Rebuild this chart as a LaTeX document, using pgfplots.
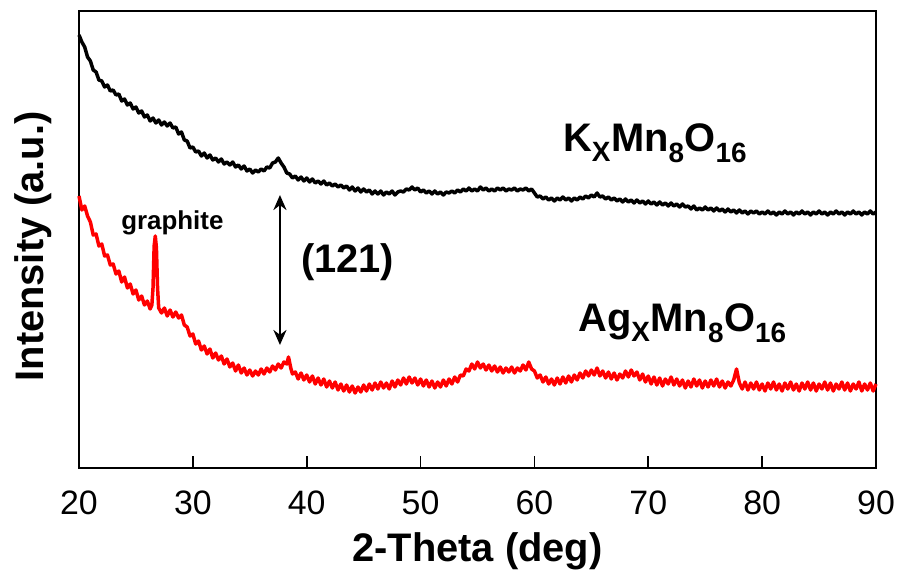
\documentclass[border=0pt]{standalone}
\usepackage{fontspec}
\usepackage{pgfplots}
\usepackage{pgfplotstable}
\pgfplotsset{compat=1.18}
\usetikzlibrary{arrows.meta}
\setmainfont{Liberation Sans}

% K_xMn8O16 (black), intensity in arbitrary units
\pgfplotstableread[row sep=\\]{
x y\\
20.00 433\\ 20.25 426\\ 20.50 421\\ 20.75 411\\ 21.00 407\\ 21.25 398\\ 21.50 396\\ 21.75 388\\
22.00 387\\ 22.25 381\\ 22.50 383\\ 22.75 377\\ 23.00 378\\ 23.25 373\\ 23.50 374\\ 23.75 367\\
24.00 369\\ 24.25 363\\ 24.50 365\\ 24.75 359\\ 25.00 361\\ 25.25 355\\ 25.50 357\\ 25.75 351\\
26.00 353\\ 26.25 347\\ 26.50 350\\ 26.75 345\\ 27.00 348\\ 27.25 343\\ 27.50 346\\ 27.75 342\\
28.00 345\\ 28.25 340\\ 28.50 341\\ 28.75 334\\ 29.00 336\\ 29.25 328\\ 29.50 327\\ 29.75 320\\
30.00 321\\ 30.25 316\\ 30.50 317\\ 30.75 312\\ 31.00 315\\ 31.25 310\\ 31.50 313\\ 31.75 308\\
32.00 310\\ 32.25 306\\ 32.50 309\\ 32.75 304\\ 33.00 306\\ 33.25 303\\ 33.50 306\\ 33.75 301\\
34.00 303\\ 34.25 299\\ 34.50 302\\ 34.75 297\\ 35.00 299\\ 35.25 295\\ 35.50 298\\ 35.75 296\\
36.00 299\\ 36.25 297\\ 36.50 301\\ 36.75 300\\ 37.00 305\\ 37.25 306\\ 37.50 310\\ 37.75 305\\
38.00 301\\ 38.25 295\\ 38.50 294\\ 38.75 290\\ 39.00 292\\ 39.25 288\\ 39.50 291\\ 39.75 287\\
40.00 290\\ 40.25 286\\ 40.50 289\\ 40.75 285\\ 41.00 287\\ 41.25 284\\ 41.50 287\\ 41.75 283\\
42.00 285\\ 42.25 282\\ 42.50 284\\ 42.75 281\\ 43.00 283\\ 43.25 280\\ 43.50 282\\ 43.75 278\\
44.00 281\\ 44.25 277\\ 44.50 280\\ 44.75 276\\ 45.00 279\\ 45.25 276\\ 45.50 278\\ 45.75 274\\
46.00 277\\ 46.25 274\\ 46.50 277\\ 46.75 273\\ 47.00 276\\ 47.25 274\\ 47.50 277\\ 47.75 273\\
48.00 276\\ 48.25 277\\ 48.50 276\\ 48.75 279\\ 49.00 278\\ 49.25 281\\ 49.50 278\\ 49.75 280\\
50.00 276\\ 50.25 278\\ 50.50 275\\ 50.75 277\\ 51.00 274\\ 51.25 277\\ 51.50 274\\ 51.75 276\\
52.00 273\\ 52.25 276\\ 52.50 275\\ 52.75 277\\ 53.00 275\\ 53.25 278\\ 53.50 276\\ 53.75 279\\
54.00 277\\ 54.25 280\\ 54.50 277\\ 54.75 279\\ 55.00 277\\ 55.25 281\\ 55.50 278\\ 55.75 280\\
56.00 277\\ 56.25 279\\ 56.50 277\\ 56.75 280\\ 57.00 278\\ 57.25 280\\ 57.50 277\\ 57.75 279\\
58.00 278\\ 58.25 280\\ 58.50 277\\ 58.75 279\\ 59.00 278\\ 59.25 280\\ 59.50 277\\ 59.75 279\\
60.00 275\\ 60.25 271\\ 60.50 272\\ 60.75 269\\ 61.00 271\\ 61.25 268\\ 61.50 270\\ 61.75 267\\
62.00 270\\ 62.25 268\\ 62.50 271\\ 62.75 268\\ 63.00 270\\ 63.25 267\\ 63.50 270\\ 63.75 268\\
64.00 271\\ 64.25 269\\ 64.50 272\\ 64.75 270\\ 65.00 273\\ 65.25 271\\ 65.50 275\\ 65.75 271\\
66.00 272\\ 66.25 269\\ 66.50 271\\ 66.75 268\\ 67.00 270\\ 67.25 267\\ 67.50 269\\ 67.75 266\\
68.00 269\\ 68.25 266\\ 68.50 268\\ 68.75 265\\ 69.00 268\\ 69.25 265\\ 69.50 267\\ 69.75 264\\
70.00 267\\ 70.25 264\\ 70.50 266\\ 70.75 263\\ 71.00 266\\ 71.25 263\\ 71.50 265\\ 71.75 262\\
72.00 265\\ 72.25 262\\ 72.50 264\\ 72.75 261\\ 73.00 264\\ 73.25 261\\ 73.50 262\\ 73.75 259\\
74.00 262\\ 74.25 258\\ 74.50 260\\ 74.75 258\\ 75.00 261\\ 75.25 258\\ 75.50 260\\ 75.75 257\\
76.00 260\\ 76.25 257\\ 76.50 259\\ 76.75 256\\ 77.00 259\\ 77.25 256\\ 77.50 258\\ 77.75 255\\
78.00 258\\ 78.25 255\\ 78.50 257\\ 78.75 254\\ 79.00 257\\ 79.25 255\\ 79.50 257\\ 79.75 254\\
80.00 256\\ 80.25 254\\ 80.50 257\\ 80.75 254\\ 81.00 256\\ 81.25 253\\ 81.50 256\\ 81.75 254\\
82.00 257\\ 82.25 254\\ 82.50 256\\ 82.75 253\\ 83.00 256\\ 83.25 254\\ 83.50 257\\ 83.75 254\\
84.00 256\\ 84.25 253\\ 84.50 256\\ 84.75 254\\ 85.00 257\\ 85.25 254\\ 85.50 256\\ 85.75 253\\
86.00 256\\ 86.25 254\\ 86.50 257\\ 86.75 254\\ 87.00 256\\ 87.25 253\\ 87.50 256\\ 87.75 254\\
88.00 257\\ 88.25 254\\ 88.50 256\\ 88.75 253\\ 89.00 256\\ 89.25 254\\ 89.50 257\\ 89.75 254\\
90.00 256\\
}\kdata

% Ag_xMn8O16 (red)
\pgfplotstableread[row sep=\\]{
x y\\
20.00 272\\ 20.25 258\\ 20.50 262\\ 20.75 252\\ 21.00 246\\ 21.25 233\\ 21.50 234\\ 21.75 222\\
22.00 224\\ 22.25 212\\ 22.50 213\\ 22.75 203\\ 23.00 204\\ 23.25 194\\ 23.50 197\\ 23.75 186\\
24.00 191\\ 24.25 180\\ 24.50 184\\ 24.75 174\\ 25.00 178\\ 25.25 168\\ 25.50 172\\ 25.75 163\\
26.00 167\\ 26.25 159\\ 26.40 163\\ 26.50 180\\ 26.60 222\\ 26.70 232\\ 26.80 220\\ 26.90 180\\
27.00 160\\ 27.25 155\\ 27.50 160\\ 27.75 152\\ 28.00 158\\ 28.25 151\\ 28.50 156\\ 28.75 150\\
29.00 153\\ 29.25 143\\ 29.50 141\\ 29.75 132\\ 30.00 134\\ 30.25 124\\ 30.50 127\\ 30.75 118\\
31.00 122\\ 31.25 114\\ 31.50 119\\ 31.75 110\\ 32.00 115\\ 32.25 108\\ 32.50 112\\ 32.75 104\\
33.00 109\\ 33.25 101\\ 33.50 105\\ 33.75 97\\ 34.00 103\\ 34.25 95\\ 34.50 100\\ 34.75 93\\
35.00 98\\ 35.25 92\\ 35.50 97\\ 35.75 93\\ 36.00 99\\ 36.25 94\\ 36.50 100\\ 36.75 96\\
37.00 102\\ 37.25 98\\ 37.50 104\\ 37.75 100\\ 38.00 106\\ 38.25 104\\ 38.40 111\\ 38.60 100\\
38.75 94\\ 39.00 96\\ 39.25 89\\ 39.50 95\\ 39.75 88\\ 40.00 93\\ 40.25 86\\ 40.50 92\\
40.75 84\\ 41.00 90\\ 41.25 83\\ 41.50 89\\ 41.75 81\\ 42.00 87\\ 42.25 80\\ 42.50 86\\
42.75 78\\ 43.00 84\\ 43.25 77\\ 43.50 83\\ 43.75 76\\ 44.00 82\\ 44.25 75\\ 44.50 81\\
44.75 76\\ 45.00 83\\ 45.25 77\\ 45.50 84\\ 45.75 78\\ 46.00 85\\ 46.25 79\\ 46.50 86\\
46.75 80\\ 47.00 85\\ 47.25 79\\ 47.50 87\\ 47.75 81\\ 48.00 88\\ 48.25 83\\ 48.50 90\\
48.75 84\\ 49.00 91\\ 49.25 85\\ 49.50 90\\ 49.75 83\\ 50.00 89\\ 50.25 82\\ 50.50 88\\
50.75 81\\ 51.00 87\\ 51.25 80\\ 51.50 86\\ 51.75 81\\ 52.00 88\\ 52.25 82\\ 52.50 89\\
52.75 84\\ 53.00 91\\ 53.25 86\\ 53.50 93\\ 53.75 92\\ 54.00 99\\ 54.25 97\\ 54.50 104\\
54.75 99\\ 55.00 106\\ 55.25 100\\ 55.50 104\\ 55.75 98\\ 56.00 103\\ 56.25 97\\ 56.50 102\\
56.75 96\\ 57.00 101\\ 57.25 95\\ 57.50 100\\ 57.75 96\\ 58.00 101\\ 58.25 95\\ 58.50 100\\
58.75 97\\ 59.00 103\\ 59.25 98\\ 59.50 106\\ 59.75 99\\ 60.00 97\\ 60.25 90\\ 60.50 93\\
60.75 86\\ 61.00 91\\ 61.25 84\\ 61.50 89\\ 61.75 83\\ 62.00 90\\ 62.25 84\\ 62.50 91\\
62.75 85\\ 63.00 92\\ 63.25 86\\ 63.50 93\\ 63.75 88\\ 64.00 95\\ 64.25 90\\ 64.50 97\\
64.75 92\\ 65.00 98\\ 65.25 93\\ 65.50 100\\ 65.75 92\\ 66.00 97\\ 66.25 90\\ 66.50 96\\
66.75 89\\ 67.00 95\\ 67.25 88\\ 67.50 94\\ 67.75 90\\ 68.00 97\\ 68.25 91\\ 68.50 98\\
68.75 92\\ 69.00 96\\ 69.25 88\\ 69.50 94\\ 69.75 86\\ 70.00 92\\ 70.25 84\\ 70.50 91\\
70.75 83\\ 71.00 90\\ 71.25 82\\ 71.50 89\\ 71.75 84\\ 72.00 91\\ 72.25 83\\ 72.50 89\\
72.75 82\\ 73.00 88\\ 73.25 80\\ 73.50 87\\ 73.75 81\\ 74.00 89\\ 74.25 82\\ 74.50 88\\
74.75 80\\ 75.00 87\\ 75.25 81\\ 75.50 88\\ 75.75 82\\ 76.00 89\\ 76.25 81\\ 76.50 87\\
76.75 80\\ 77.00 86\\ 77.25 82\\ 77.50 88\\ 77.75 99\\ 78.00 85\\ 78.25 79\\ 78.50 86\\
78.75 78\\ 79.00 85\\ 79.25 79\\ 79.50 86\\ 79.75 78\\ 80.00 84\\ 80.25 77\\ 80.50 85\\
80.75 79\\ 81.00 86\\ 81.25 78\\ 81.50 84\\ 81.75 77\\ 82.00 85\\ 82.25 79\\ 82.50 86\\
82.75 78\\ 83.00 84\\ 83.25 77\\ 83.50 85\\ 83.75 79\\ 84.00 86\\ 84.25 78\\ 84.50 85\\
84.75 77\\ 85.00 84\\ 85.25 79\\ 85.50 86\\ 85.75 78\\ 86.00 85\\ 86.25 77\\ 86.50 84\\
86.75 79\\ 87.00 86\\ 87.25 78\\ 87.50 85\\ 87.75 77\\ 88.00 84\\ 88.25 79\\ 88.50 86\\
88.75 77\\ 89.00 84\\ 89.25 78\\ 89.50 85\\ 89.75 77\\ 90.00 84\\
}\agdata

\begin{document}
\begin{tikzpicture}
\useasboundingbox (-79bp,-110bp) rectangle (820bp,468bp);
\begin{axis}[
    scale only axis,
    width=797bp, height=457bp,
    xmin=20, xmax=90, ymin=0, ymax=457,
    axis line style={line width=2bp},
    xtick={20,30,...,90},
    ytick=\empty,
    xtick pos=bottom,
    tick align=inside,
    major tick length=12bp,
    tick style={line width=1.6bp, black},
    /pgf/number format/assume math mode=true,
    xticklabel style={font=\fontsize{34}{34}\selectfont, yshift=-19bp},
    xlabel={2-Theta (deg)},
    xlabel style={font=\fontsize{40}{40}\selectfont\bfseries, at={(axis description cs:0.5,-0.182)}, anchor=center},
    ylabel={Intensity (a.u.)},
    ylabel style={font=\fontsize{40}{40}\selectfont\bfseries, at={(axis description cs:-0.058,0.485)}, anchor=center},
    clip=false,
]
\addplot[black, line width=3.5bp, line join=round] table[x=x, y=y] {\kdata};
\addplot[red, line width=3.5bp, line join=round] table[x=x, y=y] {\agdata};

\node[font=\fontsize{26}{26}\selectfont\bfseries] at (axis cs:28.2,245) {graphite};
\node[font=\fontsize{40}{40}\selectfont\bfseries] at (axis cs:43.6,206) {(121)};
\node[font=\fontsize{40}{40}\selectfont\bfseries] at (axis cs:70.6,325) {K\textsubscript{X}Mn\textsubscript{8}O\textsubscript{16}};
\node[font=\fontsize{40}{40}\selectfont\bfseries] at (axis cs:73.0,145) {Ag\textsubscript{X}Mn\textsubscript{8}O\textsubscript{16}};
\draw[line width=2.6bp, {Stealth[length=15bp,width=13bp]}-{Stealth[length=15bp,width=13bp]}]
    (axis cs:37.65,273) -- (axis cs:37.65,123);
\end{axis}
\end{tikzpicture}
\end{document}
